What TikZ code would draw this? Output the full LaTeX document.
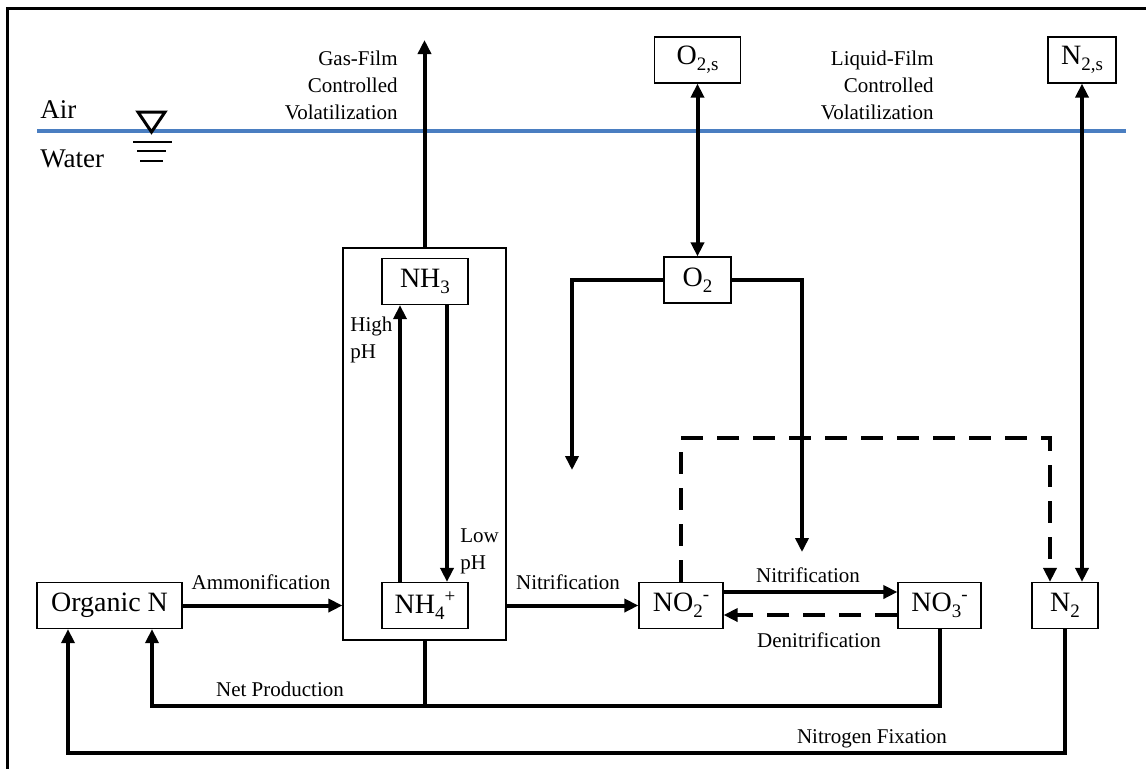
\documentclass[tikz,border=0pt]{standalone}
\usepackage{fontspec}
\setmainfont{Liberation Serif}
\usetikzlibrary{arrows.meta}
\definecolor{waterblue}{RGB}{74,126,193}
\newcommand{\chemsub}[1]{\raisebox{-0.45ex}{\fontsize{9.5}{10}\selectfont #1}}
\newcommand{\chemsup}[1]{\raisebox{0.85ex}{\fontsize{9.5}{10}\selectfont #1}}

\begin{document}
\begin{tikzpicture}[x=0.5pt,y=-0.5pt,
    >={Triangle[length=7pt,width=6.5pt]},
    box/.style={draw,line width=0.6pt,inner sep=0pt,minimum height=23pt,
        font=\fontsize{14}{16}\selectfont},
    flow/.style={line width=2pt},
    dashflow/.style={line width=2pt,dash pattern=on 11pt off 7pt},
    lbl/.style={inner sep=0pt,font=\fontsize{10.5}{13.5}\selectfont}]
            \useasboundingbox (0,0) rectangle (1146,768);
            % frame
            \draw[line width=1.5pt] (7,770) -- (7,8) -- (1148,8);
%
            % surface
            \draw[line width=2pt,waterblue] (37,131) -- (1126,131);
            \draw[line width=1.5pt] (138,112) -- (165,112) -- (151.5,132) -- cycle;
            \draw[line width=1pt] (133,142) -- (172,142) (137,151) -- (166,151) (140,161) -- (163,161);
            \node[inner sep=0pt,anchor=base west,font=\fontsize{13.5}{16}\selectfont] (air) at (40,118) {Air};
            \node[inner sep=0pt,anchor=base west,font=\fontsize{13.5}{16}\selectfont] (water) at (40,167) {Water};
%
            % boxes
            \node[box,minimum width=72.5pt] (orgn) at (109.5,605.5) {Organic N};
            \node[draw,line width=0.6pt,inner sep=0pt,minimum width=81.5pt,minimum height=196pt] (phbox) at (424.5,444) {};
            \node[box,minimum width=43pt] (nh3) at (425,281.5) {NH\chemsub{3}};
            \node[box,minimum width=43pt] (nh4) at (425,605.5) {NH\chemsub{4}\chemsup{+}};
            \node[box,minimum width=42pt] (no2) at (681,605.5) {NO\chemsub{2}\chemsup{-}};
            \node[box,minimum width=41.5pt] (no3) at (939.5,605.5) {NO\chemsub{3}\chemsup{-}};
            \node[box,minimum width=33pt] (n2) at (1065,605.5) {N\chemsub{2}};
            \node[box,minimum width=33.5pt] (o2) at (697.5,280) {O\chemsub{2}};
            \node[box,minimum width=43pt] (o2s) at (697.5,60) {O\chemsub{2,s}};
            \node[box,minimum width=34pt] (n2s) at (1082,60) {N\chemsub{2,s}};
%
            % volatilization
            \coordinate (gas) at (423,40);
            \draw[flow,->] (phbox.north) -- (phbox.north |- gas);
            \draw[flow,<->] (o2s) -- (o2);
            \draw[flow,<->] (n2s.south) -- (n2s.south |- n2.north);
%
            % pH
            \draw[flow,->] ([xshift=-12.5pt]nh4.north) -- ([xshift=-12.5pt]nh3.south);
            \draw[flow,->] ([xshift=11pt]nh3.south) -- ([xshift=11pt]nh4.north);
%
            % ammonification, nitrification, denitrification
            \draw[flow,->] (orgn.east) -- (orgn.east -| phbox.west);
            \draw[flow,->] (nh4.east -| phbox.east) -- (no2.west);
            \draw[flow,->] ([yshift=6.75pt]no2.east) -- ([yshift=6.75pt]no3.west);
            \draw[dashflow,->] ([yshift=-4.75pt]no3.west) -- ([yshift=-4.75pt]no2.east);
            \coordinate (dn) at (1050,438);
            \draw[dashflow,->] (no2.north) |- (dn) -- (dn |- n2.north);
%
            % oxygen
            \coordinate (o2l) at (572,470);
            \coordinate (o2r) at (802,552);
            \draw[flow,->] (o2.west) -| (o2l);
            \draw[flow,->] (o2.east) -| (o2r);
%
            % net production, fixation
            \coordinate (net) at (152,706);
            \draw[flow] (phbox.south) -- (phbox.south |- net);
            \draw[flow,->] (no3.south) |- (net) -- (net |- orgn.south);
            \coordinate (fix) at (68,753);
            \draw[flow,->] (n2.south) |- (fix) -- (fix |- orgn.south);
%
            % labels
            \node[lbl,align=right,anchor=north east] (gasfilm) at (398,51) {Gas-Film\\Controlled\\Volatilization};
            \node[lbl,align=right,anchor=north east] (liqfilm) at (934,51) {Liquid-Film\\Controlled\\Volatilization};
            \node[lbl,align=left,anchor=north west] (highph) at (350,317) {High\\pH};
            \node[lbl,align=left,anchor=north west] (lowph) at (460,528) {Low\\pH};
            \node[lbl,anchor=base] (ammon) at (261,589) {Ammonification};
            \node[lbl,anchor=base] (nitrleft) at (568,589) {Nitrification};
            \node[lbl,anchor=base] (nitrright) at (808,582) {Nitrification};
            \node[lbl,anchor=base] (denitr) at (819,647) {Denitrification};
            \node[lbl,anchor=base] (netprod) at (280,696) {Net Production};
            \node[lbl,anchor=base] (nfix) at (872,743) {Nitrogen Fixation};
        \end{tikzpicture}
\end{document}
